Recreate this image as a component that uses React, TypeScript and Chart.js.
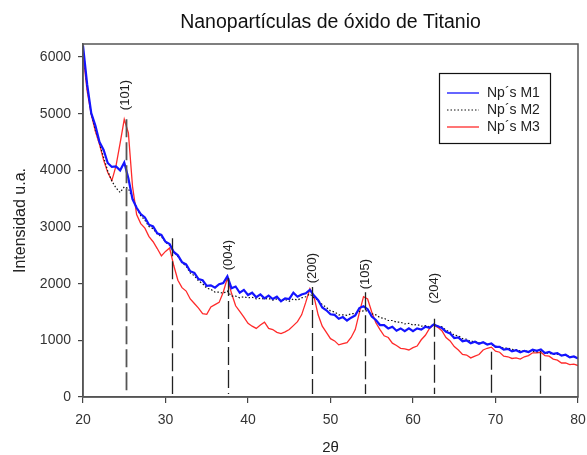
import React, { useEffect, useRef } from 'react';
import { Chart, registerables } from 'chart.js';

Chart.register(...registerables);

const angles = [
  20, 20.5, 21, 21.5, 22, 22.5, 23, 23.5, 24, 24.5, 25, 25.5, 26, 26.5, 27, 27.5, 28, 28.5, 29, 29.5,
  30, 30.5, 31, 31.5, 32, 32.5, 33, 33.5, 34, 34.5, 35, 35.5, 36, 36.5, 37, 37.5, 38, 38.5, 39, 39.5,
  40, 40.5, 41, 41.5, 42, 42.5, 43, 43.5, 44, 44.5, 45, 45.5, 46, 46.5, 47, 47.5, 48, 48.5, 49, 49.5,
  50, 50.5, 51, 51.5, 52, 52.5, 53, 53.5, 54, 54.5, 55, 55.5, 56, 56.5, 57, 57.5, 58, 58.5, 59, 59.5,
  60, 60.5, 61, 61.5, 62, 62.5, 63, 63.5, 64, 64.5, 65, 65.5, 66, 66.5, 67, 67.5, 68, 68.5, 69, 69.5,
  70, 70.5, 71, 71.5, 72, 72.5, 73, 73.5, 74, 74.5, 75, 75.5, 76, 76.5, 77, 77.5, 78, 78.5, 79, 79.5,
  80,
];

const m1 = [
  6200, 5520, 5010, 4790, 4500, 4360, 4130, 4060, 4070, 4000, 4140, 3860, 3490, 3340, 3230, 3170, 3040, 3010, 2890, 2860,
  2740, 2700, 2560, 2500, 2380, 2340, 2220, 2190, 2080, 2060, 1960, 1970, 1930, 1990, 2010, 2130, 1920, 1950, 1840, 1890,
  1800, 1840, 1760, 1810, 1740, 1790, 1730, 1770, 1690, 1740, 1730, 1840, 1770, 1810, 1830, 1890, 1790, 1710, 1580, 1530,
  1460, 1450, 1380, 1410, 1350, 1400, 1440, 1570, 1600, 1550, 1420, 1360, 1270, 1270, 1210, 1240, 1170, 1210, 1160, 1210,
  1160, 1210, 1190, 1240, 1220, 1280, 1250, 1220, 1150, 1120, 1040, 1050, 985, 1000, 950, 975, 940, 965, 925, 945,
  885, 885, 835, 850, 805, 825, 790, 815, 795, 835, 815, 840, 775, 795, 760, 775, 730, 745, 700, 715,
  680,
];

const m2 = [
  6180, 5470, 5000, 4710, 4470, 4230, 3990, 3810, 3690, 3610, 3710, 3680, 3510, 3340, 3200, 3120, 3010, 2970, 2880, 2830,
  2730, 2680, 2560, 2480, 2370, 2310, 2190, 2140, 2050, 2000, 1920, 1900, 1850, 1850, 1830, 1870, 1780, 1780, 1750, 1770,
  1750, 1760, 1730, 1740, 1730, 1740, 1710, 1730, 1700, 1720, 1690, 1730, 1710, 1750, 1770, 1820, 1750, 1710, 1630, 1580,
  1520, 1500, 1450, 1450, 1440, 1470, 1470, 1510, 1520, 1520, 1470, 1450, 1400, 1390, 1350, 1350, 1320, 1320, 1290, 1300,
  1270, 1280, 1250, 1260, 1240, 1280, 1250, 1240, 1180, 1150, 1090, 1080, 1030, 1020, 980, 985, 955, 960, 935, 925,
  895, 890, 860, 865, 840, 835, 815, 815, 800, 805, 795, 800, 775, 775, 750, 755, 735, 735, 715, 710,
  695,
];

const m3 = [
  6050, 5400, 4990, 4690, 4460, 4180, 3960, 3820, 4080, 4480, 4900, 4660, 3720, 3220, 3060, 2980, 2830, 2740, 2620, 2490,
  2570, 2630, 2320, 2060, 1930, 1870, 1730, 1650, 1570, 1470, 1460, 1590, 1630, 1670, 1850, 2100, 1830, 1610, 1510, 1410,
  1300, 1250, 1210, 1270, 1320, 1210, 1190, 1140, 1120, 1150, 1190, 1260, 1330, 1450, 1670, 1910, 1770, 1450, 1250, 1140,
  1030, 990, 920, 940, 960, 1050, 1190, 1490, 1770, 1730, 1500, 1310, 1190, 1080, 1050, 950, 910, 860, 850, 830,
  870, 900, 1010, 1090, 1210, 1270, 1230, 1170, 1050, 990, 890, 830, 750, 740, 690, 720, 750, 830, 860, 880,
  810, 790, 720, 710, 680, 690, 670, 710, 730, 780, 780, 790, 730, 720, 670, 650, 600, 600, 570, 580,
  555,
];

const seriesNames = ['Np\u00b4s M1', 'Np\u00b4s M2', 'Np\u00b4s M3'];
const seriesColors = ['#1414ff', '#111111', '#ff2a2a'];

const peakAngles = [25.2, 30.8, 37.6, 47.8, 54.2, 62.6, 69.4, 75.4];
const peakTops = [4900, 2800, 2100, 1940, 1850, 1380, 800, 780];
const peakLabels = ['(101)', '', '(004)', '(200)', '(105)', '(204)', '', ''];
const peakLabelValues = [5330, 0, 2505, 2275, 2170, 1920, 0, 0];

const yTickValues = [0, 1000, 2000, 3000, 4000, 5000, 6000];
const chartTitle = 'Nanopart\u00edculas de \u00f3xido de Titanio';
const yTitle = 'Intensidad u.a.';
const xTitle = '2\u03b8';

const FONT = '"Liberation Sans", Arial, Helvetica, sans-serif';

const decorPlugin = {
  id: 'decor',
  afterDatasetsDraw(chart: any) {
    const { ctx, scales } = chart;
    const xs = scales.x;
    const ys = scales.y;
    ctx.save();
    peakAngles.forEach((a, i) => {
      const px = Math.round(xs.getPixelForValue(a)) + 0.5;
      ctx.beginPath();
      ctx.setLineDash([18, 5]);
      ctx.lineWidth = i === 0 ? 1.8 : 1.3;
      ctx.strokeStyle = i === 0 ? '#555' : '#222';
      ctx.moveTo(px, ys.getPixelForValue(peakTops[i]));
      ctx.lineTo(px, ys.getPixelForValue(0) - 3);
      ctx.stroke();
    });
    ctx.setLineDash([]);
    ctx.fillStyle = '#222';
    ctx.font = '13px ' + FONT;
    ctx.textAlign = 'center';
    ctx.textBaseline = 'middle';
    peakLabels.forEach((lab, i) => {
      if (!lab) return;
      ctx.save();
      ctx.translate(xs.getPixelForValue(peakAngles[i]), ys.getPixelForValue(peakLabelValues[i]));
      ctx.rotate(-Math.PI / 2);
      ctx.fillText(lab, 0, 0);
      ctx.restore();
    });
    ctx.restore();
  },
  afterDraw(chart: any) {
    const { ctx, chartArea } = chart;
    ctx.save();
    ctx.strokeStyle = '#555';
    ctx.lineWidth = 1.5;
    ctx.strokeRect(chartArea.left, chartArea.top, chartArea.right - chartArea.left, chartArea.bottom - chartArea.top);
    ctx.fillStyle = '#111';
    ctx.font = '19.5px ' + FONT;
    ctx.textAlign = 'center';
    ctx.textBaseline = 'middle';
    ctx.fillText(chartTitle, (chartArea.left + chartArea.right) / 2, 23);
    const bx = chartArea.right - 139;
    const by = chartArea.top + 29;
    ctx.fillStyle = '#fff';
    ctx.fillRect(bx, by, 111, 70);
    ctx.strokeStyle = '#111';
    ctx.lineWidth = 1.2;
    ctx.strokeRect(bx + 0.5, by + 0.5, 111, 70);
    ctx.font = '14px ' + FONT;
    ctx.textAlign = 'left';
    seriesNames.forEach((name, i) => {
      const ry = by + 20 + i * 17;
      ctx.beginPath();
      ctx.strokeStyle = seriesColors[i];
      ctx.lineWidth = i === 1 ? 1 : 1.3;
      ctx.setLineDash(i === 1 ? [1.5, 2] : []);
      ctx.moveTo(bx + 8, ry);
      ctx.lineTo(bx + 40, ry);
      ctx.stroke();
      ctx.setLineDash([]);
      ctx.fillStyle = '#222';
      ctx.fillText(name, bx + 48, ry);
    });
    ctx.restore();
  },
};

export default function App() {
  const canvasRef = useRef<HTMLCanvasElement | null>(null);

  useEffect(() => {
    if (!canvasRef.current) return;
    const mk = (vals: number[]) => angles.map((a, i) => ({ x: a, y: vals[i] }));
    const chart = new Chart(canvasRef.current, {
      type: 'line',
      data: {
        datasets: [
          {
            label: seriesNames[0],
            data: mk(m1),
            borderColor: seriesColors[0],
            borderWidth: 2.2,
            pointRadius: 0,
            tension: 0,
          },
          {
            label: seriesNames[1],
            data: mk(m2),
            borderColor: seriesColors[1],
            borderWidth: 1.2,
            borderDash: [1.5, 2],
            pointRadius: 0,
            tension: 0,
          },
          {
            label: seriesNames[2],
            data: mk(m3),
            borderColor: seriesColors[2],
            borderWidth: 1.3,
            pointRadius: 0,
            tension: 0,
          },
        ],
      },
      options: {
        responsive: false,
        animation: false,
        layout: { padding: { left: 0, top: 44, right: 9, bottom: 0 } },
        plugins: {
          legend: { display: false },
          title: { display: false },
          tooltip: { enabled: false },
        },
        scales: {
          x: {
            type: 'linear',
            min: 20,
            max: 80,
            ticks: { stepSize: 10, color: '#333', font: { family: FONT, size: 14 }, padding: 9, maxRotation: 0 },
            grid: { drawOnChartArea: false, drawTicks: true, tickLength: 6, color: '#444', lineWidth: 1.2 },
            border: { display: true, color: '#555', width: 1.5 },
            title: { display: true, text: xTitle, color: '#222', font: { family: FONT, size: 15 }, padding: { top: 0, bottom: -2 } },
            afterFit: (s: any) => { s.height = 58; s.paddingLeft = 0; s.paddingRight = 0; },
          },
          y: {
            type: 'linear',
            min: 0,
            max: 6230,
            afterBuildTicks: (s: any) => { s.ticks = yTickValues.map((v) => ({ value: v })); },
            ticks: { color: '#333', font: { family: FONT, size: 14 }, padding: 7, callback: (v: any) => String(v) },
            grid: { drawOnChartArea: false, drawTicks: true, tickLength: 5, color: '#444', lineWidth: 1.2 },
            border: { display: true, color: '#555', width: 1.5 },
            title: { display: true, text: yTitle, color: '#222', font: { family: FONT, size: 16 }, padding: { top: 11, bottom: 0 } },
            afterFit: (s: any) => { s.width = 83; },
          },
        },
      },
      plugins: [decorPlugin],
    });
    return () => chart.destroy();
  }, []);

  return (
    <div style={{ position: 'absolute', left: 0, top: 0, width: 587, height: 455, background: '#fff' }}>
      <canvas ref={canvasRef} width={587} height={455} />
    </div>
  );
}
